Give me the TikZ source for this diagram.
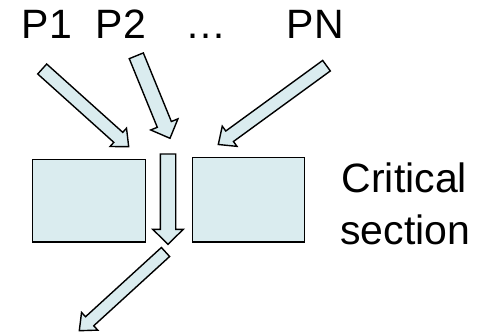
\documentclass[tikz,border=0pt]{standalone}
\usepackage{fontspec}
\setmainfont{Liberation Sans}
\usetikzlibrary{calc}
\definecolor{paleblue}{RGB}{218,236,239}
\tikzset{
  shapeline/.style={draw=black, fill=paleblue, line width=1.4pt, line join=miter},
  label/.style={anchor=base west, inner sep=0pt, font=\fontsize{41}{48}\selectfont},
}
% block arrow: tail coordinate, tip coordinate, shaft half width, head half width, head length
\newcommand\blockarrow[5]{%
  \coordinate (tmpS) at ($(#2)!#5!(#1)$);
  \draw[shapeline]
    ($(#1)!#3!90:(#2)$) -- ($(tmpS)!#3!-90:(#1)$) -- ($(tmpS)!#4!-90:(#1)$) -- (#2)
    -- ($(tmpS)!#4!90:(#1)$) -- ($(tmpS)!#3!90:(#1)$) -- ($(#1)!#3!-90:(#2)$) -- cycle;
}
\begin{document}
\begin{tikzpicture}[x=1pt,y=-1pt]
\useasboundingbox (0,0) rectangle (487,334);
% labels
\node[label] (p1) at (21.5,39) {P1};
\node[label] (p2) at (95.5,39) {P2};
\node[label] (dots) at (185,39) {…};
\node[label] (pn) at (286.5,39) {PN};
\node[label] (crit) at (341.5,192.5) {Critical};
\node[label] (sect) at (340,244) {section};
% boxes
\draw[shapeline] (32.3,159.3) rectangle (145.3,242);
\draw[shapeline] (192.3,157.7) rectangle (304.7,242);
% arrow coordinates
\coordinate (t1) at (42.2,69);   \coordinate (h1) at (128.7,146.7);
\coordinate (t2) at (136.3,55.8); \coordinate (h2) at (170,138.3);
\coordinate (tn) at (326.5,65.7); \coordinate (hn) at (218.3,144.5);
\coordinate (tv) at (168,154);    \coordinate (hv) at (168,244.3);
\coordinate (tb) at (165.5,252);  \coordinate (hb) at (79.3,330.7);
\blockarrow{t1}{h1}{6.7pt}{12.3pt}{14pt}
\blockarrow{t2}{h2}{7.6pt}{14.7pt}{15pt}
\blockarrow{tn}{hn}{6.5pt}{12.5pt}{14pt}
\blockarrow{tv}{hv}{7.7pt}{15.3pt}{15pt}
\blockarrow{tb}{hb}{6.1pt}{12pt}{14pt}
\end{tikzpicture}
\end{document}
